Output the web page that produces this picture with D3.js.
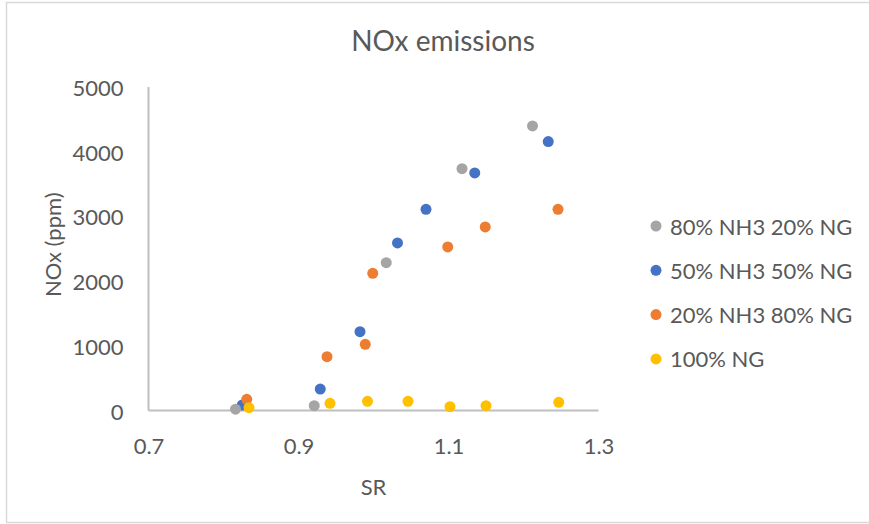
<!DOCTYPE html>
<html lang="en">
	<head>
		<meta charset="utf-8">
		<title>D3: NOx emissions scatter</title>
		<style type="text/css">
			body { margin: 0; background: #ffffff; }
			text { font-family: Lato, "Open Sans", sans-serif; fill: #595959; }
		</style>
	</head>
	<body>
		<script src="https://cdn.jsdelivr.net/npm/d3@7/dist/d3.min.js"></script>
		<script>
			//Series data (SR, NOx ppm)
			var seriesNames = ["80% NH3 20% NG", "50% NH3 50% NG", "20% NH3 80% NG", "100% NG"];
			var seriesColors = ["#A5A5A5", "#4472C4", "#ED7D31", "#FFC000"];

			var sr80 = [0.816, 0.921, 1.017, 1.118, 1.212];
			var nox80 = [20, 75, 2285, 3738, 4398];

			var sr50 = [0.825, 0.929, 0.982, 1.032, 1.070, 1.135, 1.233];
			var nox50 = [85, 332, 1218, 2590, 3110, 3672, 4156];

			var sr20 = [0.831, 0.938, 0.989, 0.999, 1.099, 1.149, 1.246];
			var nox20 = [173, 832, 1023, 2121, 2528, 2837, 3110];

			var sr100 = [0.834, 0.942, 0.992, 1.046, 1.102, 1.150, 1.247];
			var nox100 = [43, 111, 142, 142, 59, 74, 127];

			var xTicks = [0.7, 0.9, 1.1, 1.3];
			var yTicks = [0, 1000, 2000, 3000, 4000, 5000];

			var srData = [sr80, sr50, sr20, sr100];
			var noxData = [nox80, nox50, nox20, nox100];
			//drawing order (gray sits above blue near the origin)
			var drawOrder = [1, 2, 0, 3];

			//Width and height
			var w = 869;
			var h = 524;

			var xScale = d3.scaleLinear()
							.domain([0.7, 1.3])
							.range([148.5, 598.5]);
			var yScale = d3.scaleLinear()
							.domain([0, 5000])
							.range([410.5, 87]);

			//Create SVG element
			var svg = d3.select("body")
						.append("svg")
						.attr("width", w)
						.attr("height", h);

			//Chart border
			svg.append("rect")
			   .attr("x", 6.5)
			   .attr("y", 2.5)
			   .attr("width", 880)
			   .attr("height", 520)
			   .attr("fill", "white")
			   .attr("stroke", "#D9D9D9")
			   .attr("stroke-width", 1.5);

			//Title
			svg.append("text")
			   .attr("x", 443)
			   .attr("y", 40)
			   .attr("text-anchor", "middle")
			   .attr("dominant-baseline", "central")
			   .attr("font-size", "28px")
			   .text("NOx emissions");

			//Axes (no ticks, just lines and labels)
			var xAxis = d3.axisBottom(xScale)
						  .tickValues(xTicks)
						  .tickSize(0)
						  .tickPadding(0)
						  .tickFormat(d3.format(".1f"));
			var yAxis = d3.axisLeft(yScale)
						  .tickValues(yTicks)
						  .tickSize(0)
						  .tickPadding(25)
						  .tickFormat(d3.format("d"));

			var gx = svg.append("g")
						.attr("transform", "translate(0," + yScale(0) + ")")
						.call(xAxis);
			gx.select(".domain").remove();
			gx.selectAll("text")
			  .attr("y", 35)
			  .attr("dy", null)
			  .attr("dominant-baseline", "central")
			  .attr("font-family", null)
			  .attr("font-size", "22px");

			var gy = svg.append("g")
						.attr("transform", "translate(" + xScale(0.7) + ",0)")
						.call(yAxis);
			gy.select(".domain").remove();
			gy.selectAll("text")
			  .attr("dy", null)
			  .attr("dominant-baseline", "central")
			  .attr("font-family", null)
			  .attr("font-size", "22px");

			//Axis lines
			svg.append("line")
			   .attr("x1", xScale(0.7))
			   .attr("x2", xScale(0.7))
			   .attr("y1", yScale(5000))
			   .attr("y2", yScale(0))
			   .attr("stroke", "#BFBFBF")
			   .attr("stroke-width", 2);
			svg.append("line")
			   .attr("x1", xScale(0.7))
			   .attr("x2", xScale(1.3))
			   .attr("y1", yScale(0))
			   .attr("y2", yScale(0))
			   .attr("stroke", "#BFBFBF")
			   .attr("stroke-width", 2);

			//Axis titles
			svg.append("text")
			   .attr("x", (xScale(0.7) + xScale(1.3)) / 2)
			   .attr("y", 486)
			   .attr("text-anchor", "middle")
			   .attr("dominant-baseline", "central")
			   .attr("font-size", "22px")
			   .text("SR");
			svg.append("text")
			   .attr("transform", "translate(52," + (yScale(2500) - 4) + ") rotate(-90)")
			   .attr("text-anchor", "middle")
			   .attr("dominant-baseline", "central")
			   .attr("font-size", "22px")
			   .text("NOx (ppm)");

			//Points
			drawOrder.forEach(function(s) {
				svg.append("g")
				   .selectAll("circle")
				   .data(d3.range(srData[s].length))
				   .enter()
				   .append("circle")
				   .attr("cx", function(i) {
				   		return xScale(srData[s][i]);
				   })
				   .attr("cy", function(i) {
				   		return yScale(noxData[s][i]);
				   })
				   .attr("r", 5.5)
				   .attr("fill", seriesColors[s]);
			});

			//Legend
			var legend = svg.selectAll(".legend")
							.data(seriesNames)
							.enter()
							.append("g")
							.attr("class", "legend")
							.attr("transform", function(d, i) {
								return "translate(656," + (226 + i * 44.3) + ")";
							});
			legend.append("circle")
				  .attr("r", 5.5)
				  .attr("fill", function(d, i) {
				  		return seriesColors[i];
				  });
			legend.append("text")
				  .attr("x", 14)
				  .attr("dominant-baseline", "central")
				  .attr("font-size", "22px")
				  .text(function(d) {
				  		return d;
				  });
		</script>
	</body>
</html>
